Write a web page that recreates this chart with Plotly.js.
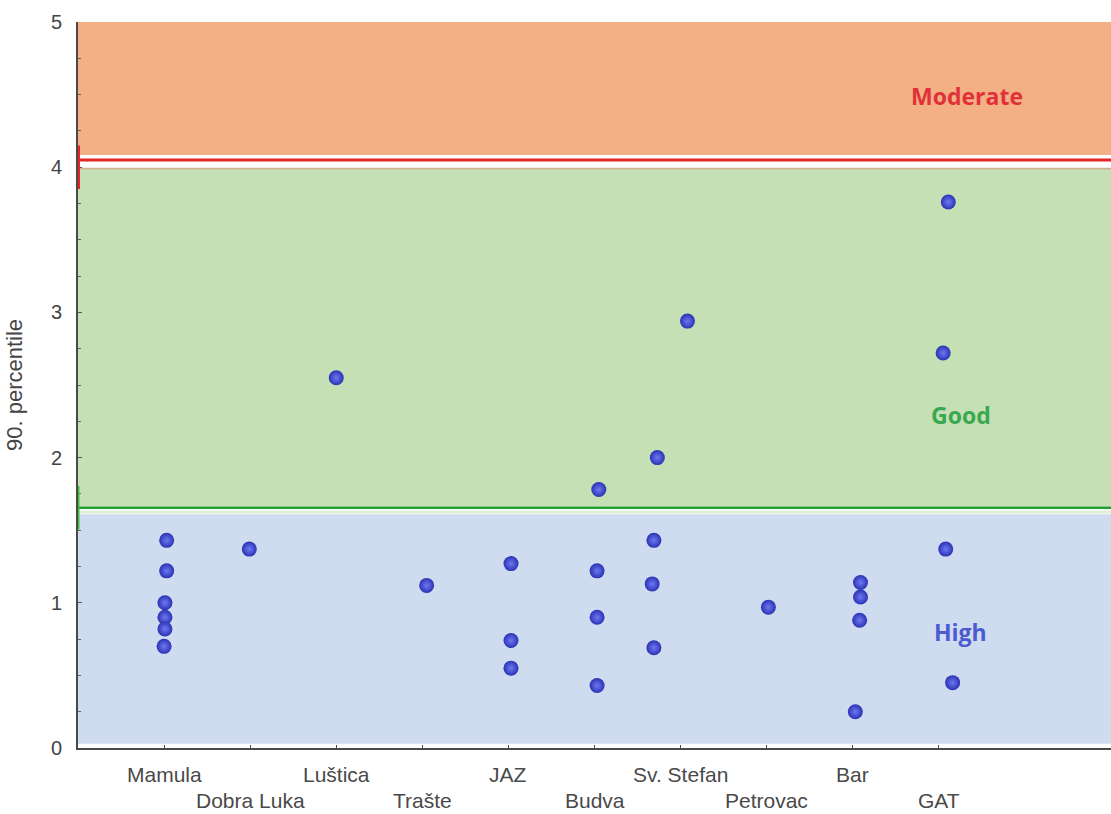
<!DOCTYPE html>
<html>
<head>
<meta charset="utf-8">
<script src="https://cdn.plot.ly/plotly-3.0.1.min.js"></script>
<style>html,body{margin:0;padding:0;background:#fff;}#chart{width:1111px;height:814px;}</style>
</head>
<body>
<div id="chart"></div>
<script>
// Sampling sites along the x axis (category order)
const sites = ['Mamula', 'Dobra Luka', 'Luštica', 'Trašte', 'JAZ', 'Budva', 'Sv. Stefan', 'Petrovac', 'Bar', 'GAT'];
const siteIndex = [0, 1, 2, 3, 4, 5, 6, 7, 8, 9];

// Points: position along the site axis and 90th percentile value
const pointPos = [0.03, 0.03, 0.01, 0.01, 0.01, 0.00,
                  0.99, 2.00, 3.05,
                  4.03, 4.03, 4.03,
                  5.05, 5.03, 5.03, 5.03,
                  5.73, 5.69, 5.67, 5.69, 6.08,
                  7.02,
                  8.09, 8.09, 8.08, 8.03,
                  9.11, 9.05, 9.08, 9.16];
const pointVal = [1.43, 1.22, 1.00, 0.90, 0.82, 0.70,
                  1.37, 2.55, 1.12,
                  1.27, 0.74, 0.55,
                  1.78, 1.22, 0.90, 0.43,
                  2.00, 1.43, 1.13, 0.69, 2.94,
                  0.97,
                  1.14, 1.04, 0.88, 0.25,
                  3.76, 2.72, 1.37, 0.45];

// Status class boundaries and labels
const classNames = ['High', 'Good', 'Moderate'];
const classLow = [0.03, 1.665, 4.075];
const classHigh = [1.61, 3.98, 5.0];
const classFill = ['#cfdbef', '#c6e0b5', '#f2b084'];
const classText = ['#4a5cd0', '#3aa84e', '#e2303a'];
const classLabelX = [9.25, 9.26, 9.33];
const classLabelY = [0.80, 2.29, 4.49];
const goodHighBoundary = 1.655;
const moderateGoodBoundary = 4.05;

const shapes = [];
for (let i = 0; i < classNames.length; i++) {
  shapes.push({type: 'rect', xref: 'x', yref: 'y', x0: -1, x1: 11, y0: classLow[i], y1: classHigh[i],
    fillcolor: classFill[i], line: {width: 0}, layer: 'below'});
}
// thin brownish edge under the red boundary
shapes.push({type: 'line', xref: 'x', yref: 'y', x0: -1, x1: 11, y0: 3.99, y1: 3.99,
  line: {color: '#c9b48a', width: 2}, layer: 'below'});
// white strip above the red line
shapes.push({type: 'line', xref: 'x', yref: 'y', x0: -1, x1: 11, y0: moderateGoodBoundary + 0.027, y1: moderateGoodBoundary + 0.027,
  line: {color: '#ffffff', width: 2}, layer: 'below'});
// red Moderate/Good boundary
shapes.push({type: 'line', xref: 'x', yref: 'y', x0: -1, x1: 11, y0: moderateGoodBoundary, y1: moderateGoodBoundary,
  line: {color: '#e42626', width: 3}, layer: 'below'});
shapes.push({type: 'line', xref: 'x', yref: 'y', x0: -1, x1: -1, y0: moderateGoodBoundary - 0.2, y1: moderateGoodBoundary + 0.1,
  line: {color: '#e42626', width: 4}, layer: 'above'});
// light strip under the green line
shapes.push({type: 'line', xref: 'x', yref: 'y', x0: -1, x1: 11, y0: goodHighBoundary - 0.03, y1: goodHighBoundary - 0.03,
  line: {color: '#dcefd6', width: 3}, layer: 'below'});
// green Good/High boundary
shapes.push({type: 'line', xref: 'x', yref: 'y', x0: -1, x1: 11, y0: goodHighBoundary, y1: goodHighBoundary,
  line: {color: '#1f9e2c', width: 2.5}, layer: 'below'});
shapes.push({type: 'line', xref: 'x', yref: 'y', x0: -1, x1: -1, y0: goodHighBoundary - 0.15, y1: goodHighBoundary + 0.15,
  line: {color: '#3cc040', width: 3}, layer: 'above'});

const annotations = [];
for (let i = 0; i < classNames.length; i++) {
  annotations.push({x: classLabelX[i], y: classLabelY[i], xref: 'x', yref: 'y', text: '<b>' + classNames[i] + '</b>',
    showarrow: false, font: {family: 'Open Sans, sans-serif', size: 23, color: classText[i]},
    xanchor: 'center', yanchor: 'middle'});
}
for (let i = 0; i < sites.length; i++) {
  annotations.push({x: siteIndex[i], y: (i % 2 === 0) ? -0.037 : -0.073, xref: 'x', yref: 'paper',
    text: sites[i], showarrow: false, font: {family: 'Liberation Sans, Arial, sans-serif', size: 21, color: '#4a4a4a'},
    xanchor: 'center', yanchor: 'middle'});
}

const trace = {
  type: 'scatter', mode: 'markers', x: pointPos, y: pointVal,
  marker: {size: 15, color: '#2b33b4', line: {width: 0},
    gradient: {type: 'radial', color: '#6e78f2'}},
  hoverinfo: 'y', showlegend: false
};

const layout = {
  width: 1111, height: 814,
  margin: {l: 78, r: 0, t: 22, b: 66},
  paper_bgcolor: '#ffffff', plot_bgcolor: '#ffffff',
  xaxis: {
    range: [-1, 11], tickvals: siteIndex, showticklabels: false,
    ticks: 'inside', ticklen: 3, tickcolor: '#444', tickwidth: 1,
    showgrid: false, zeroline: false,
    showline: true, linecolor: '#4a4a4a', linewidth: 2
  },
  yaxis: {
    range: [0, 5], tickvals: [0, 1, 2, 3, 4, 5],
    ticks: 'inside', ticklen: 4, tickcolor: '#555', tickwidth: 1,
    minor: {dtick: 0.25, ticks: 'inside', ticklen: 3, tickcolor: '#666'},
    tickfont: {family: 'Liberation Sans, Arial, sans-serif', size: 20, color: '#444'},
    ticklabelstandoff: 10,
    showgrid: false, zeroline: false,
    showline: true, linecolor: '#4a4a4a', linewidth: 2,
    title: {text: '90. percentile', font: {family: 'Liberation Sans, Arial, sans-serif', size: 22, color: '#444'}, standoff: 22}
  },
  shapes: shapes,
  annotations: annotations
};

Plotly.newPlot('chart', [trace], layout, {displayModeBar: false, staticPlot: true});
</script>
</body>
</html>
